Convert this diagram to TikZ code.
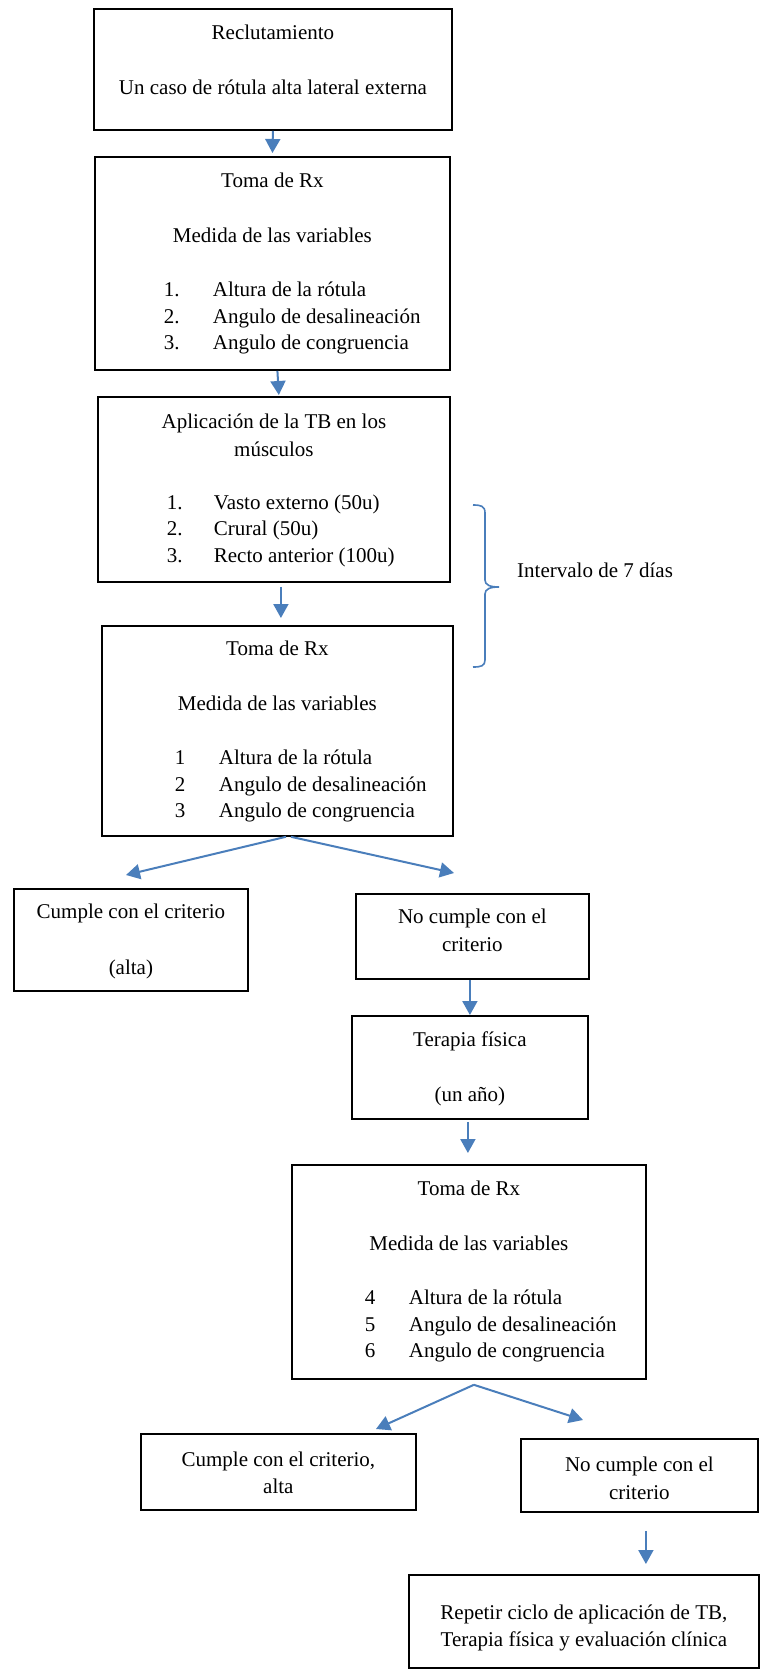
\documentclass[tikz,border=0pt]{standalone}
\usepackage{fontspec}
\setmainfont{Liberation Serif}
\usetikzlibrary{arrows.meta}
\definecolor{FlechaAzul}{HTML}{4A7EBB}
\tikzset{
    caja/.style = {draw, line width=1.8pt, inner sep=0pt, anchor=north west},
    flecha/.style = {draw=FlechaAzul, line width=2pt,
        -{Triangle[length=14pt,width=15pt]}},
    llave/.style = {draw=FlechaAzul, line width=1.6pt}
}
% ancho, alto, primera linea base, contenido
\newcommand{\cajatexto}[4]{\parbox[c][#2][t]{#1}{\centering\rule{0pt}{#3}#4}}
% sangria, ancho del numero, numero, texto
\newcommand{\punto}[4]{\makebox[\linewidth][l]{\hspace*{#1}\makebox[#2][l]{#3}#4}}

\begin{document}
\begin{tikzpicture}[x=1pt,y=-1pt,font=\fontsize{21}{26.5}\selectfont]
    \useasboundingbox (0,0) rectangle (760,1669);
    % columna principal
    \node[caja] (recl) at (93,8) {\cajatexto{358pt}{121pt}{31pt}{%
        Reclutamiento\\[28pt]
        Un caso de rótula alta lateral externa}};
    \node[caja] (rx1) at (94,156) {\cajatexto{355pt}{213pt}{31pt}{%
        Toma de Rx\\[28pt]
        Medida de las variables\\[28pt]
        \punto{69pt}{49pt}{1.}{Altura de la rótula}\\
        \punto{69pt}{49pt}{2.}{Angulo de desalineación}\\
        \punto{69pt}{49pt}{3.}{Angulo de congruencia}}};
    \node[caja] (apl) at (97,396) {\cajatexto{352pt}{185pt}{32pt}{%
        Aplicación de la TB en los\\[1pt]
        músculos\\[26.5pt]
        \punto{69pt}{47pt}{1.}{Vasto externo (50u)}\\
        \punto{69pt}{47pt}{2.}{Crural (50u)}\\
        \punto{69pt}{47pt}{3.}{Recto anterior (100u)}}};
    \node[caja] (rx2) at (101,625) {\cajatexto{351pt}{210pt}{30pt}{%
        Toma de Rx\\[28pt]
        Medida de las variables\\[28pt]
        \punto{73pt}{44pt}{1}{Altura de la rótula}\\
        \punto{73pt}{44pt}{2}{Angulo de desalineación}\\
        \punto{73pt}{44pt}{3}{Angulo de congruencia}}};
    % intervalo
    \draw[llave] (473,505) .. controls (481,505) and (485,506) .. (485,513)
        -- (485,580) .. controls (485,585) and (490,587) .. (499,587)
        .. controls (490,587) and (485,589) .. (485,594)
        -- (485,660) .. controls (485,666) and (481,667) .. (473,667);
    \node[anchor=base west, inner sep=0pt] (intervalo) at (517,577) {Intervalo de 7 días};
    % primera evaluacion
    \node[caja] (cumple1) at (13,888) {\cajatexto{234pt}{102pt}{30pt}{%
        Cumple con el criterio\\[29.5pt]
        (alta)}};
    \node[caja] (nocumple1) at (355,893) {\cajatexto{233pt}{85pt}{30pt}{%
        No cumple con el\\[1.5pt]
        criterio}};
    \node[caja] (terapia) at (351,1015) {\cajatexto{236pt}{103pt}{31pt}{%
        Terapia física\\[28.5pt]
        (un año)}};
    \node[caja] (rx3) at (291,1164) {\cajatexto{354pt}{214pt}{31pt}{%
        Toma de Rx\\[28.5pt]
        Medida de las variables\\[27.5pt]
        \punto{73pt}{44pt}{4}{Altura de la rótula}\\
        \punto{73pt}{44pt}{5}{Angulo de desalineación}\\
        \punto{73pt}{44pt}{6}{Angulo de congruencia}}};
    % segunda evaluacion
    \node[caja] (cumple2) at (140,1433) {\cajatexto{275pt}{76pt}{33pt}{%
        Cumple con el criterio,\\
        alta}};
    \node[caja] (nocumple2) at (520,1438) {\cajatexto{237pt}{73pt}{33pt}{%
        No cumple con el\\[1.5pt]
        criterio}};
    \node[caja] (repetir) at (408,1574) {\cajatexto{350pt}{93pt}{45pt}{%
        Repetir ciclo de aplicación de TB,\\
        Terapia física y evaluación clínica}};
    % puntas libres
    \coordinate (p1) at (126,875);
    \coordinate (p2) at (454,873);
    \coordinate (p3) at (376,1429);
    \coordinate (p4) at (583,1420);
    % flechas
    \draw[flecha, shorten >=3pt] (recl.south) -- (rx1.north);
    \draw[flecha, shorten >=1pt] ([xshift=5pt]rx1.south) -- ([xshift=5pt]apl.north);
    \draw[flecha, shorten <=4pt, shorten >=7pt] ([xshift=7pt]apl.south) -- ([xshift=3.5pt]rx2.north);
    \draw[flecha] ([xshift=8.5pt]rx2.south) -- (p1);
    \draw[flecha] ([xshift=13.5pt]rx2.south) -- (p2);
    \draw[flecha] ([xshift=-2.5pt]nocumple1.south) -- (terapia.north);
    \draw[flecha, shorten <=2pt, shorten >=11pt] ([xshift=-2pt]terapia.south) -- ([xshift=-1pt]rx3.north);
    \draw[flecha] ([xshift=5pt,yshift=-5pt]rx3.south) -- (p3);
    \draw[flecha] ([xshift=5pt,yshift=-5pt]rx3.south) -- (p4);
    \draw[flecha, shorten <=18pt, shorten >=10pt] ([xshift=6.5pt]nocumple2.south) -- ([xshift=62pt]repetir.north);
\end{tikzpicture}
\end{document}
